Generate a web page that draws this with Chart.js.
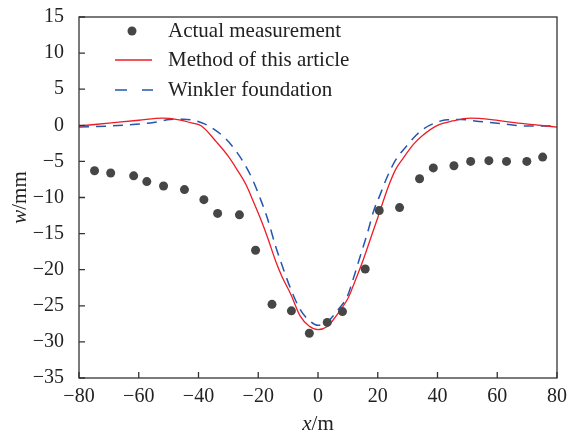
<!DOCTYPE html>
<html>
<head>
<meta charset="utf-8">
<script src="https://cdn.jsdelivr.net/npm/chart.js@4.4.1/dist/chart.umd.min.js"></script>
<style>
  body { margin: 0; background: #fff; }
  #wrap { width: 576px; height: 435px; }
</style>
</head>
<body>
<div id="wrap"><canvas id="myChart"></canvas></div>
<script>
// data
const measX = [-74.8, -69.4, -61.7, -57.3, -51.7, -44.7, -38.2, -33.6, -26.3, -20.9, -15.4, -8.9, -2.9, 3.1, 8.2, 15.8, 20.5, 27.3, 34.0, 38.6, 45.5, 51.1, 57.2, 63.1, 69.9, 75.2];
const measY = [-6.3, -6.6, -7.0, -7.8, -8.4, -8.9, -10.3, -12.2, -12.4, -17.3, -24.8, -25.7, -28.8, -27.3, -25.8, -19.9, -11.8, -11.4, -7.4, -5.9, -5.6, -5.0, -4.9, -5.0, -5.0, -4.4];

const methodX = [-80, -70, -60, -52, -47, -42, -39, -34, -30, -27, -24, -21.6, -19, -17, -14, -12, -9, -6, -3, 0, 3, 5, 8, 10, 12, 15, 18, 20, 22, 24, 26, 28.6, 32, 35, 40, 45, 51, 58, 65, 72, 80];
const methodY = [-0.1, 0.3, 0.7, 1.0, 0.8, 0.3, -0.1, -2.3, -4.3, -6.2, -8.3, -10.6, -13.2, -15.4, -19.0, -21.0, -23.5, -26.4, -27.8, -28.3, -27.9, -27.0, -25.3, -24.0, -22.0, -18.8, -15.2, -12.8, -10.3, -8.0, -6.1, -4.5, -2.6, -1.4, 0.0, 0.6, 1.0, 0.8, 0.4, 0.1, -0.25];

const winklerX = [-80, -70, -62, -55, -49.5, -45, -41.7, -38, -35, -31, -27.2, -24, -21.6, -19, -17, -14, -11.6, -9, -6, -3, 0, 2, 4, 7, 9.7, 12, 14, 16.5, 18.6, 20.8, 23, 26, 29.8, 33, 35.3, 39, 43.2, 48, 54, 62, 70, 80];
const winklerY = [-0.25, -0.1, 0.1, 0.4, 0.8, 0.85, 0.7, 0.2, -0.5, -1.8, -3.7, -5.8, -7.8, -10.5, -12.8, -17.0, -19.9, -22.8, -25.5, -27.0, -27.7, -27.6, -26.9, -25.4, -23.8, -21.0, -18.3, -15.0, -11.9, -9.6, -7.3, -4.8, -2.8, -1.3, -0.5, 0.3, 0.76, 0.8, 0.53, 0.2, -0.1, -0.1];

const seriesNames = ['Actual measurement', 'Method of this article', 'Winkler foundation'];
const xTicks = [-80, -60, -40, -20, 0, 20, 40, 60, 80];
const yTicks = [-35, -30, -25, -20, -15, -10, -5, 0, 5, 10, 15];

const FONT = '"Liberation Serif", "Times New Roman", serif';
const pts = (xs, ys) => xs.map((x, i) => ({ x: x, y: ys[i] }));
const minus = v => String(v).replace('-', '\u2212');

const data = {
  datasets: [{
    label: seriesNames[0],
    data: pts(measX, measY),
    showLine: false,
    pointRadius: 4.5,
    pointBackgroundColor: '#464646',
    pointBorderWidth: 0,
    order: 0
  }, {
    label: seriesNames[1],
    data: pts(methodX, methodY),
    showLine: true,
    borderColor: '#ee1c25',
    borderWidth: 1.3,
    pointRadius: 0,
    cubicInterpolationMode: 'monotone',
    order: 1
  }, {
    label: seriesNames[2],
    data: pts(winklerX, winklerY),
    showLine: true,
    borderColor: '#2357b0',
    borderWidth: 1.5,
    borderDash: [10, 7],
    pointRadius: 0,
    cubicInterpolationMode: 'monotone',
    order: 2
  }]
};

// frame, inward ticks, axis titles and legend
const decor = {
  id: 'decor',
  afterDraw(chart) {
    const { ctx, chartArea: { top, bottom, left, right }, scales: { x, y } } = chart;
    ctx.save();
    ctx.strokeStyle = '#333';
    ctx.lineWidth = 1.3;
    ctx.strokeRect(left, top, right - left, bottom - top);
    ctx.beginPath();
    xTicks.forEach(v => {
      const px = x.getPixelForValue(v);
      ctx.moveTo(px, bottom);
      ctx.lineTo(px, bottom - 6);
    });
    yTicks.forEach(v => {
      const py = y.getPixelForValue(v);
      ctx.moveTo(left, py);
      ctx.lineTo(left + 6, py);
    });
    ctx.stroke();

    // axis titles
    ctx.fillStyle = '#222';
    ctx.textBaseline = 'middle';
    ctx.font = `italic 21px ${FONT}`;
    const wx = ctx.measureText('x').width;
    ctx.font = `21px ${FONT}`;
    const wm = ctx.measureText('/m').width;
    const cx = (left + right) / 2 - (wx + wm) / 2;
    ctx.textAlign = 'left';
    ctx.font = `italic 21px ${FONT}`;
    ctx.fillText('x', cx, 424);
    ctx.font = `21px ${FONT}`;
    ctx.fillText('/m', cx + wx, 424);

    ctx.save();
    ctx.translate(20, (top + bottom) / 2);
    ctx.rotate(-Math.PI / 2);
    ctx.font = `italic 21px ${FONT}`;
    const ww = ctx.measureText('w').width;
    ctx.font = `21px ${FONT}`;
    const wmm = ctx.measureText('/mm').width;
    const sx = -(ww + wmm) / 2;
    ctx.font = `italic 21px ${FONT}`;
    ctx.fillText('w', sx, 0);
    ctx.font = `21px ${FONT}`;
    ctx.fillText('/mm', sx + ww, 0);
    ctx.restore();

    // legend
    const ds = chart.data.datasets;
    const rows = [31, 60, 90];
    ctx.font = `21px ${FONT}`;
    ctx.fillStyle = '#222';
    rows.forEach((ry, i) => ctx.fillText(ds[i].label, 168, ry));
    ctx.beginPath();
    ctx.fillStyle = ds[0].pointBackgroundColor;
    ctx.arc(132, rows[0], 4.5, 0, Math.PI * 2);
    ctx.fill();
    ctx.strokeStyle = ds[1].borderColor;
    ctx.lineWidth = ds[1].borderWidth;
    ctx.beginPath();
    ctx.moveTo(115, rows[1]);
    ctx.lineTo(152, rows[1]);
    ctx.stroke();
    ctx.strokeStyle = ds[2].borderColor;
    ctx.lineWidth = ds[2].borderWidth;
    ctx.beginPath();
    ctx.moveTo(115, rows[2]); ctx.lineTo(127, rows[2]);
    ctx.moveTo(142, rows[2]); ctx.lineTo(153, rows[2]);
    ctx.stroke();
    ctx.restore();
  }
};

const config = {
  type: 'scatter',
  data,
  options: {
    responsive: true,
    maintainAspectRatio: false,
    animation: false,
    layout: { padding: { left: 0, right: 19, top: 11, bottom: 0 } },
    plugins: {
      legend: { display: false },
      tooltip: { enabled: false }
    },
    scales: {
      x: {
        type: 'linear',
        min: -80, max: 80,
        afterFit(s) { s.height = 57; },
        afterBuildTicks(s) { s.ticks = xTicks.map(v => ({ value: v })); },
        grid: { display: false },
        border: { display: false },
        ticks: {
          padding: 1,
          color: '#222',
          font: { family: FONT, size: 20, lineHeight: 1 },
          callback: v => minus(v),
          maxRotation: 0
        }
      },
      y: {
        type: 'linear',
        min: -35, max: 15,
        afterFit(s) { s.width = 79; },
        afterBuildTicks(s) { s.ticks = yTicks.map(v => ({ value: v })); },
        grid: { display: false },
        border: { display: false },
        ticks: {
          padding: 7,
          color: '#222',
          font: { family: FONT, size: 20, lineHeight: 1 },
          callback: v => minus(v)
        }
      }
    }
  },
  plugins: [decor]
};

const myChart = new Chart(document.getElementById('myChart'), config);
</script>
</body>
</html>
